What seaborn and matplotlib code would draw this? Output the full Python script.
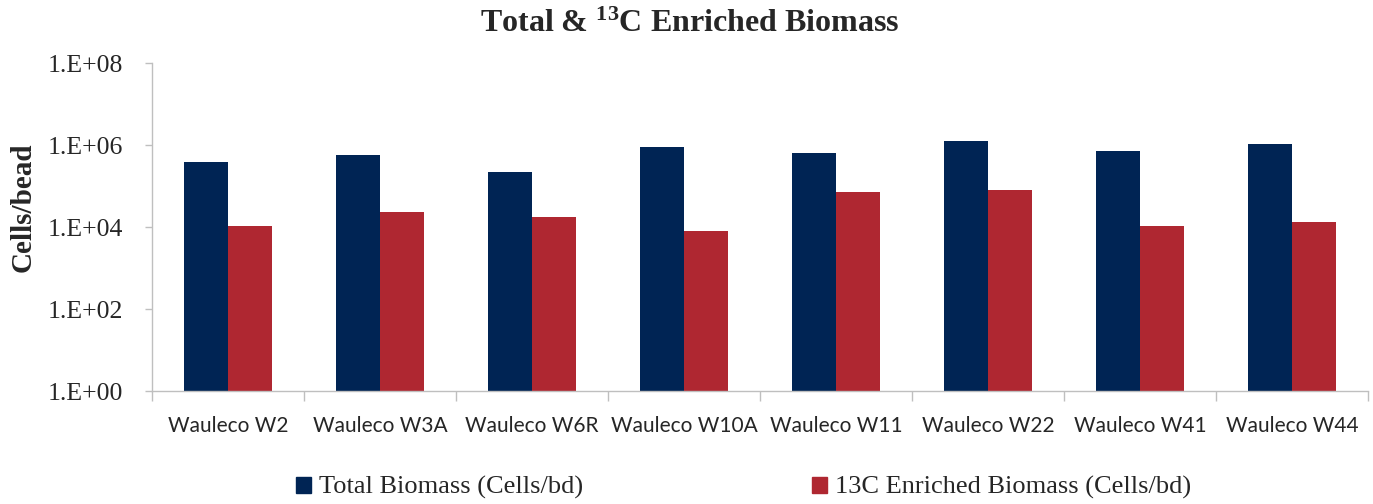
import numpy as np
import pandas as pd
import seaborn as sns
import matplotlib.pyplot as plt
from matplotlib.ticker import FixedLocator, FuncFormatter

sites = ['Wauleco W2', 'Wauleco W3A', 'Wauleco W6R', 'Wauleco W10A',
         'Wauleco W11', 'Wauleco W22', 'Wauleco W41', 'Wauleco W44']
total_biomass = [3.8e5, 5.8e5, 2.2e5, 8.7e5, 6.3e5, 1.23e6, 7.2e5, 1.07e6]
enriched_biomass = [1.08e4, 2.36e4, 1.73e4, 7.9e3, 7.1e4, 7.9e4, 1.05e4, 1.35e4]
series_names = ['Total Biomass (Cells/bd)', '13C Enriched Biomass (Cells/bd)']

df = pd.DataFrame({
    'site': sites * 2,
    'value': total_biomass + enriched_biomass,
    'series': [series_names[0]] * len(sites) + [series_names[1]] * len(sites),
})

sns.set_style('white')
plt.rcParams['font.family'] = ['Liberation Serif', 'DejaVu Serif']
plt.rcParams['mathtext.fontset'] = 'custom'
plt.rcParams['mathtext.rm'] = 'Liberation Serif'
plt.rcParams['mathtext.bf'] = 'Liberation Serif:bold'

fig = plt.figure(figsize=(13.73, 5.04), dpi=100)
ax = fig.add_axes([0.1107, 0.2242, 0.8857, 0.6508])
ax.set_yscale('log')
sns.barplot(data=df, x='site', y='value', hue='series', ax=ax,
            palette=['#002454', '#AF2731'], width=0.58, saturation=1,
            linewidth=0, legend=False)
ax.set_ylim(1, 1e8)
ax.set_xlim(-0.5, len(sites) - 0.5)

ax.yaxis.set_major_locator(FixedLocator([1, 1e2, 1e4, 1e6, 1e8]))
ax.yaxis.set_minor_locator(FixedLocator([]))
ax.yaxis.set_major_formatter(FuncFormatter(
    lambda v, p: '1.E+%02d' % int(round(np.log10(v)))))
ax.tick_params(axis='y', which='major', left=True, length=5, width=1,
               color='#BFBFBF', pad=16, labelsize=18.5)
ax.tick_params(axis='x', which='major', length=0, pad=18, labelsize=15)
for lab in ax.get_xticklabels():
    lab.set_fontfamily(['Lato', 'DejaVu Sans'])
ax.set_xticks(np.arange(-0.5, len(sites) + 0.5, 1), minor=True)
ax.tick_params(axis='x', which='minor', bottom=True, length=7, width=1,
               color='#BFBFBF')

for s in ['top', 'right']:
    ax.spines[s].set_visible(False)
for s in ['left', 'bottom']:
    ax.spines[s].set_color('#BFBFBF')
    ax.spines[s].set_linewidth(1)

ax.set_xlabel('')
ax.set_ylabel('Cells/bead', fontsize=21, fontweight='bold')
ax.yaxis.set_label_coords(-0.095, 0.56)
fig.suptitle(r'Total & $\mathbf{^{13}}$C Enriched Biomass', x=0.502, y=0.98,
             fontsize=23, fontweight='bold')

handles = [plt.Rectangle((0, 0), 1, 1, color=c) for c in ['#002454', '#AF2731']]
fig.legend(handles, series_names, loc='lower center', ncol=2,
           bbox_to_anchor=(0.5415, -0.038), frameon=False, fontsize=19,
           handlelength=0.55, handleheight=0.55, handletextpad=0.3,
           columnspacing=8.7)

fig.savefig('out.png', dpi=100)
